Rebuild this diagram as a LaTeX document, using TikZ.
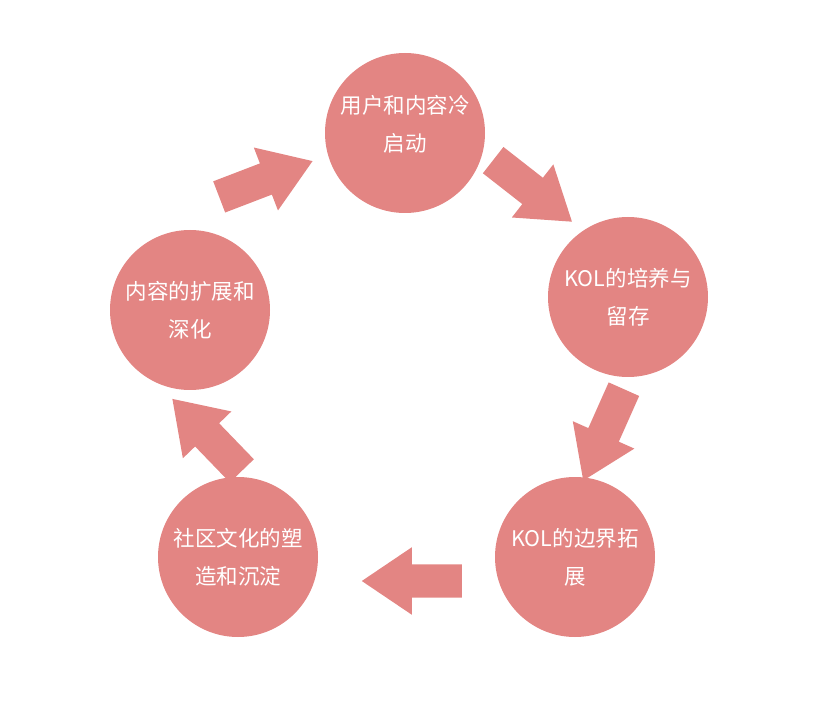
\documentclass[tikz,border=0pt]{standalone}
\usepackage{fontspec}
\newfontfamily\cjk{Noto Sans CJK SC}
\usetikzlibrary{shapes.arrows}
\definecolor{rosepink}{HTML}{E38583}

\begin{document}
\begin{tikzpicture}[x=1pt,y=-1pt,
    stage/.style={circle,fill=rosepink,minimum size=160pt,inner sep=0pt,
      text=white,align=center,
      font=\cjk\fontsize{21.5}{38}\selectfont},
    blockarrow/.style={single arrow,fill=rosepink,minimum height=100pt,
      minimum width=67pt,single arrow head extend=17pt,
      single arrow tip angle=68,inner xsep=0pt,inner ysep=16.5pt,
      anchor=tail}]
  \useasboundingbox (0,0) rectangle (820,711);

  \node[stage,text depth=19pt] (s1) at (405,133) {用户和内容冷\\启动};
  \node[stage] (s2) at (628,297) {KOL的培养与\\留存};
  \node[stage] (s3) at (575,557) {KOL的边界拓\\展};
  \node[stage] (s4) at (238,557) {社区文化的塑\\造和沉淀};
  \node[stage] (s5) at (190,310) {内容的扩展和\\深化};

  % block arrows, placed by their tails
  \node[blockarrow,rotate=-38]  (a12) at (493,160) {};
  \node[blockarrow,rotate=-114] (a23) at (624,389) {};
  \node[blockarrow,rotate=180]  (a34) at (462,581) {};
  \node[blockarrow,rotate=134]  (a45) at (242,471) {};
  \node[blockarrow,rotate=21]   (a51) at (219,197) {};
\end{tikzpicture}
\end{document}
